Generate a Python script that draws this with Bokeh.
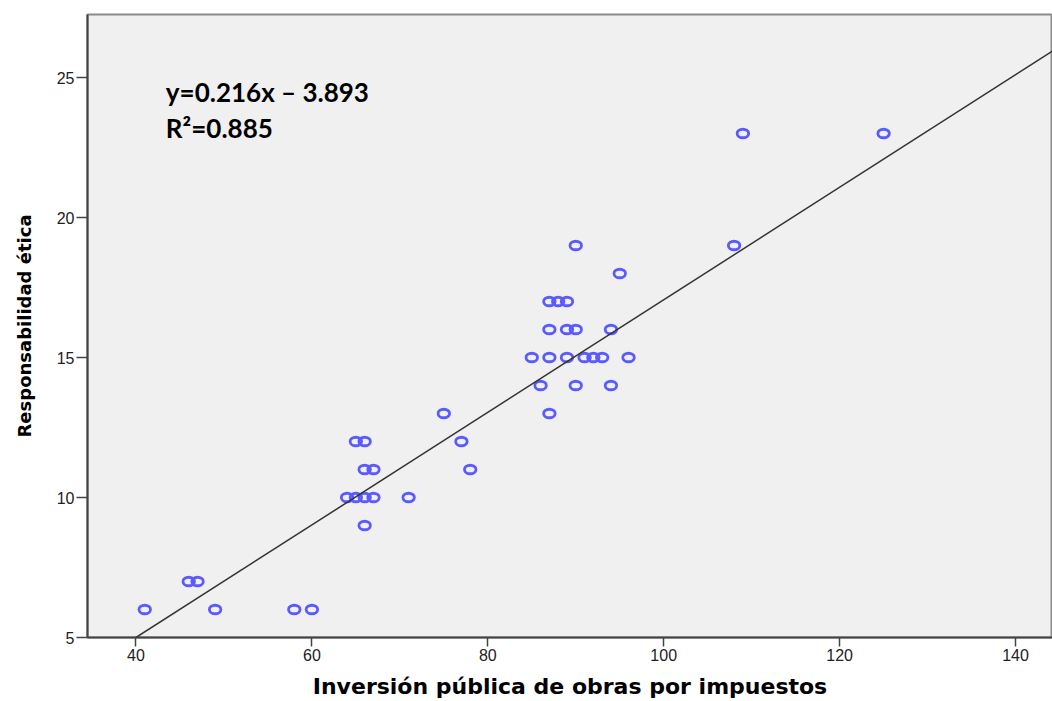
from bokeh.plotting import figure
from bokeh.models import Range1d, FixedTicker, Slope, Label
from bokeh.embed import file_html
from bokeh.resources import INLINE

# Data
inversion = [41, 49, 58, 60,
             46, 47,
             66,
             64, 65, 66, 67, 71,
             66, 67, 78,
             65, 66, 77,
             75, 87,
             86, 90, 94,
             85, 87, 89, 91, 92, 93, 96,
             87, 89, 90, 94,
             87, 88, 89,
             95,
             90, 108,
             109, 125]
responsabilidad = [6, 6, 6, 6,
                   7, 7,
                   9,
                   10, 10, 10, 10, 10,
                   11, 11, 11,
                   12, 12, 12,
                   13, 13,
                   14, 14, 14,
                   15, 15, 15, 15, 15, 15, 15,
                   16, 16, 16, 16,
                   17, 17, 17,
                   18,
                   19, 19,
                   23, 23]

x_ticks = [40, 60, 80, 100, 120, 140]
y_ticks = [5, 10, 15, 20, 25]

# Fit line as drawn in the reference, and the printed equation
line_slope = 0.201
line_intercept = -3.04
eq_text = "y=0.216x \u2013 3.893"
r2_text = "R\u00b2=0.885"

p = figure(width=1052, height=701, output_backend="svg", toolbar_location=None,
           x_range=Range1d(34.49, 144.2), y_range=Range1d(5, 27.25),
           min_border_left=87, min_border_right=0, min_border_top=14,
           min_border_bottom=63)

p.background_fill_color = "#f0f0f0"
p.border_fill_color = "white"
p.outline_line_color = "#8a8a8a"
p.outline_line_width = 2
p.xgrid.visible = False
p.ygrid.visible = False

p.ellipse(x=inversion, y=responsabilidad, width=11.5, height=8.5,
          width_units="screen", height_units="screen",
          fill_color=None, line_color="#5a5aff", line_width=2.8)

p.add_layout(Slope(gradient=line_slope, y_intercept=line_intercept,
                   line_color="#333333", line_width=1.5))

p.add_layout(Label(x=43.4, y=24.48, text=eq_text, text_font="Lato",
                   text_font_style="bold", text_font_size="26px",
                   text_color="black", text_baseline="alphabetic"))
p.add_layout(Label(x=43.4, y=23.19, text=r2_text, text_font="Lato",
                   text_font_style="bold", text_font_size="26px",
                   text_color="black", text_baseline="alphabetic"))

for ax in (p.xaxis[0], p.yaxis[0]):
    ax.axis_line_color = "#444444"
    ax.axis_line_width = 2
    ax.major_tick_line_color = "#444444"
    ax.major_tick_line_width = 1.5
    ax.major_tick_in = 0
    ax.minor_tick_line_color = None
    ax.major_label_text_font = "Liberation Sans"
    ax.major_label_text_font_size = "16px"
    ax.major_label_text_color = "#222222"
    ax.axis_label_text_font = "DejaVu Sans"
    ax.axis_label_text_font_style = "bold"
    ax.axis_label_text_color = "black"

p.xaxis.ticker = FixedTicker(ticks=x_ticks)
p.yaxis.ticker = FixedTicker(ticks=y_ticks)
p.xaxis.major_tick_out = 9
p.yaxis.major_tick_out = 11
p.xaxis.major_label_standoff = 2
p.yaxis.major_label_standoff = 2

p.xaxis.axis_label = "Inversión pública de obras por impuestos"
p.xaxis.axis_label_text_font_size = "22px"
p.xaxis.axis_label_standoff = 10
p.yaxis.axis_label = "Responsabilidad ética"
p.yaxis.axis_label_text_font_size = "18px"
p.yaxis.axis_label_standoff = 19

open("out.html", "w").write(file_html(p, INLINE))
